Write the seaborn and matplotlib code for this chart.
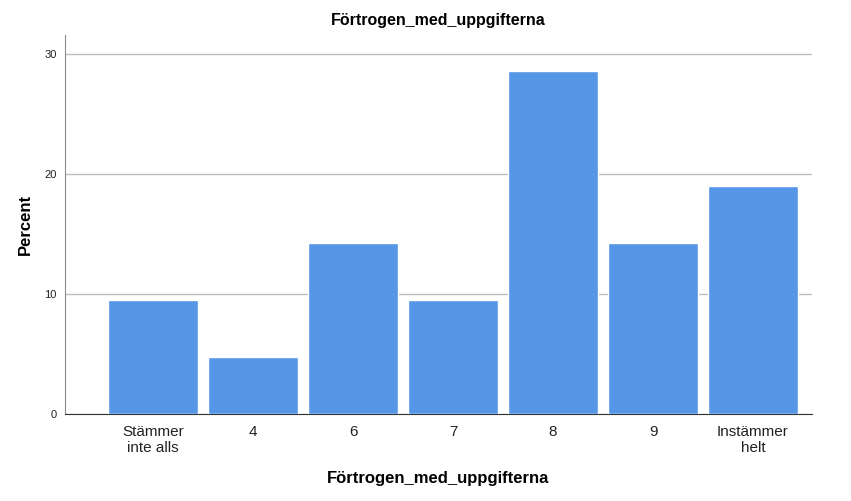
import pandas as pd
import numpy as np
import matplotlib
matplotlib.use('Agg')
import matplotlib.pyplot as plt
import seaborn as sns

categories = ['Stämmer\ninte alls', '4', '6', '7', '8', '9', 'Instämmer\nhelt']
percent = [9.52, 4.76, 14.29, 9.52, 28.57, 14.29, 19.05]

data = pd.DataFrame({'category': categories, 'percent': percent})

sns.set_style('white')
plt.rcParams['font.family'] = ['Liberation Sans', 'DejaVu Sans']
plt.rcParams['text.color'] = 'black'
plt.rcParams['axes.labelcolor'] = 'black'
plt.rcParams['xtick.color'] = '#222222'
plt.rcParams['ytick.color'] = '#222222'

fig = plt.figure(figsize=(8.51, 5.01), dpi=100)
ax = fig.add_axes([65 / 851, 87 / 501, (812 - 65) / 851, (414 - 35) / 501])

sns.barplot(x='category', y='percent', data=data, color='#5596e6',
            saturation=1, width=0.9, ax=ax, zorder=3)

ax.set_xlim(-0.88, 6.59)
ax.set_ylim(0, 31.6)
ax.set_yticks([0, 10, 20, 30])
ax.yaxis.grid(True, color='#bdbdbd', linewidth=1, zorder=0)
ax.set_axisbelow(True)

for side in ['top', 'right']:
    ax.spines[side].set_visible(False)
ax.spines['left'].set_color('#8c8c8c')
ax.spines['bottom'].set_color('#333333')

ax.tick_params(axis='y', labelsize=8, length=0, pad=6)
ax.tick_params(axis='x', labelsize=11, length=0, pad=8)
for lab in ax.get_xticklabels():
    lab.set_linespacing(1.15)

ax.set_title('Förtrogen_med_uppgifterna', fontsize=11.5, fontweight='bold', pad=7)
ax.set_xlabel('Förtrogen_med_uppgifterna', fontsize=12, fontweight='bold', labelpad=12)
ax.set_ylabel('Percent', fontsize=12, fontweight='bold', labelpad=8)

fig.savefig('out.png', dpi=100)
